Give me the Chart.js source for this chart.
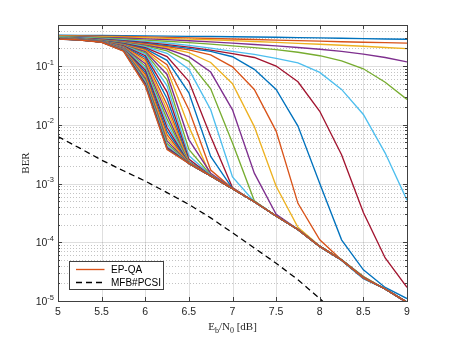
<!DOCTYPE html>
<html>
<head>
<meta charset="utf-8">
<script src="https://cdn.jsdelivr.net/npm/chart.js@4.4.1/dist/chart.umd.min.js"></script>
<style>
  html, body { margin: 0; padding: 0; background: #fff; }
  canvas { display: block; }
</style>
</head>
<body>
<canvas id="ber" width="450" height="338"></canvas>
<script>
// Eb/N0 grid (dB)
const ebN0 = [5, 5.25, 5.5, 5.75, 6, 6.25, 6.5, 6.75, 7, 7.25, 7.5, 7.75, 8, 8.25, 8.5, 8.75, 9];

// EP-QA curves (slowest first)
const ep01 = [0.335, 0.333, 0.331, 0.329, 0.327, 0.324, 0.321, 0.318, 0.315, 0.312, 0.309, 0.305, 0.301, 0.297, 0.293, 0.289, 0.286];
const ep02 = [0.33, 0.327, 0.323, 0.318, 0.313, 0.307, 0.301, 0.295, 0.289, 0.283, 0.277, 0.271, 0.265, 0.259, 0.254, 0.25, 0.246];
const ep03 = [0.325, 0.321, 0.316, 0.31, 0.303, 0.296, 0.288, 0.28, 0.271, 0.262, 0.253, 0.244, 0.235, 0.226, 0.217, 0.207, 0.198];
const ep04 = [0.32, 0.315, 0.308, 0.3, 0.291, 0.281, 0.27, 0.258, 0.246, 0.233, 0.22, 0.207, 0.193, 0.178, 0.16, 0.14, 0.118];
const ep05 = [0.315, 0.309, 0.3, 0.289, 0.277, 0.264, 0.25, 0.236, 0.221, 0.206, 0.19, 0.172, 0.15, 0.123, 0.09, 0.053, 0.027];
const ep06 = [0.31, 0.303, 0.292, 0.278, 0.263, 0.247, 0.225, 0.202, 0.178, 0.158, 0.135, 0.113, 0.078, 0.04, 0.015, 0.0033, 0.00052];
const ep07 = [0.305, 0.298, 0.286, 0.27, 0.252, 0.232, 0.21, 0.187, 0.163, 0.14, 0.1, 0.054, 0.017, 0.0031, 0.00032, 0.000054, 0.000017];
const ep08 = [0.303, 0.295, 0.282, 0.264, 0.244, 0.222, 0.2, 0.178, 0.144, 0.088, 0.04, 0.0095, 0.001, 0.00011, 0.000034, 0.000017, 0.000011];
const ep09 = [0.302, 0.293, 0.279, 0.26, 0.238, 0.213, 0.188, 0.155, 0.097, 0.04, 0.0078, 0.00046, 0.00011, 0.00005, 0.000026, 0.000016, 0.0000096];
const ep10 = [0.301, 0.292, 0.277, 0.256, 0.232, 0.205, 0.17, 0.115, 0.05, 0.0093, 0.0009, 0.00018, 0.000086, 0.000051, 0.000025, 0.000016, 0.0000095];
const ep11 = [0.3, 0.291, 0.275, 0.253, 0.226, 0.195, 0.145, 0.079, 0.018, 0.0015, 0.0003, 0.000166, 0.000085, 0.00005, 0.000025, 0.000016, 0.0000094];
const ep12 = [0.3, 0.29, 0.273, 0.25, 0.22, 0.182, 0.12, 0.041, 0.0049, 0.00051, 0.00028, 0.000165, 0.000085, 0.000051, 0.000026, 0.000016, 0.0000095];
const ep13 = [0.3, 0.289, 0.271, 0.246, 0.213, 0.165, 0.088, 0.018, 0.0013, 0.00049, 0.00028, 0.000165, 0.000084, 0.00005, 0.000025, 0.000016, 0.0000095];
const ep14 = [0.299, 0.288, 0.269, 0.242, 0.205, 0.145, 0.055, 0.0063, 0.00085, 0.00049, 0.00028, 0.000165, 0.000085, 0.00005, 0.000025, 0.000016, 0.0000093];
const ep15 = [0.299, 0.287, 0.267, 0.238, 0.197, 0.125, 0.035, 0.0029, 0.00082, 0.00049, 0.00028, 0.000164, 0.000085, 0.000049, 0.000024, 0.000016, 0.0000094];
const ep16 = [0.299, 0.286, 0.265, 0.234, 0.19, 0.105, 0.018, 0.0017, 0.00082, 0.00049, 0.00028, 0.000165, 0.000085, 0.00005, 0.000025, 0.000016, 0.0000095];
const ep17 = [0.298, 0.285, 0.263, 0.23, 0.183, 0.088, 0.0093, 0.00135, 0.00082, 0.00049, 0.00028, 0.000165, 0.000085, 0.00005, 0.000025, 0.000016, 0.0000095];
const ep18 = [0.298, 0.284, 0.262, 0.226, 0.176, 0.072, 0.0056, 0.0015, 0.00082, 0.00049, 0.00028, 0.000165, 0.000085, 0.00005, 0.000025, 0.000016, 0.0000095];
const ep19 = [0.297, 0.284, 0.262, 0.224, 0.168, 0.058, 0.0038, 0.0014, 0.00082, 0.00049, 0.00028, 0.000165, 0.000085, 0.00005, 0.000025, 0.000016, 0.0000095];
const ep20 = [0.297, 0.283, 0.261, 0.222, 0.16, 0.046, 0.003, 0.00138, 0.00082, 0.00049, 0.00028, 0.000165, 0.000085, 0.00005, 0.000025, 0.000016, 0.0000095];
const ep21 = [0.296, 0.283, 0.261, 0.22, 0.15, 0.036, 0.0026, 0.00136, 0.00082, 0.00049, 0.00028, 0.000165, 0.000085, 0.00005, 0.000025, 0.000016, 0.0000095];
const ep22 = [0.296, 0.283, 0.26, 0.217, 0.14, 0.028, 0.0024, 0.00135, 0.00082, 0.00049, 0.00028, 0.000165, 0.000085, 0.00005, 0.000025, 0.000016, 0.0000095];
const ep23 = [0.295, 0.282, 0.26, 0.214, 0.13, 0.022, 0.0023, 0.00135, 0.00082, 0.00049, 0.00028, 0.000165, 0.000085, 0.00005, 0.000025, 0.000016, 0.0000095];
const ep24 = [0.295, 0.282, 0.259, 0.211, 0.12, 0.018, 0.0023, 0.00135, 0.00082, 0.00049, 0.00028, 0.000165, 0.000085, 0.00005, 0.000025, 0.000016, 0.0000095];
const ep25 = [0.294, 0.282, 0.259, 0.208, 0.11, 0.015, 0.0022, 0.00135, 0.00082, 0.00049, 0.00028, 0.000165, 0.000085, 0.00005, 0.000025, 0.000016, 0.0000095];
const ep26 = [0.294, 0.281, 0.258, 0.205, 0.1, 0.0125, 0.0022, 0.00135, 0.00082, 0.00049, 0.00028, 0.000165, 0.000085, 0.00005, 0.000025, 0.000016, 0.0000095];
const ep27 = [0.293, 0.281, 0.258, 0.202, 0.092, 0.0105, 0.0022, 0.00135, 0.00082, 0.00049, 0.00028, 0.000165, 0.000085, 0.00005, 0.000025, 0.000016, 0.0000095];
const ep28 = [0.293, 0.281, 0.257, 0.199, 0.085, 0.009, 0.0022, 0.00135, 0.00082, 0.00049, 0.00028, 0.000165, 0.000085, 0.00005, 0.000025, 0.000016, 0.0000095];
const ep29 = [0.292, 0.28, 0.257, 0.196, 0.078, 0.0078, 0.0022, 0.00135, 0.00082, 0.00049, 0.00028, 0.000165, 0.000085, 0.00005, 0.000025, 0.000016, 0.0000095];
const ep30 = [0.292, 0.28, 0.256, 0.194, 0.072, 0.0068, 0.0022, 0.00135, 0.00082, 0.00049, 0.00028, 0.000165, 0.000085, 0.00005, 0.000025, 0.000016, 0.0000095];
const ep31 = [0.291, 0.28, 0.256, 0.192, 0.067, 0.006, 0.0022, 0.00135, 0.00082, 0.00049, 0.00028, 0.000165, 0.000085, 0.00005, 0.000025, 0.000016, 0.0000095];
const ep32 = [0.291, 0.279, 0.256, 0.19, 0.062, 0.0053, 0.0022, 0.00135, 0.00082, 0.00049, 0.00028, 0.000165, 0.000085, 0.00005, 0.000025, 0.000016, 0.0000095];
const ep33 = [0.29, 0.279, 0.255, 0.188, 0.058, 0.0048, 0.0022, 0.00135, 0.00082, 0.00049, 0.00028, 0.000165, 0.000085, 0.00005, 0.000025, 0.000016, 0.0000095];
const ep34 = [0.29, 0.279, 0.255, 0.186, 0.054, 0.0044, 0.0022, 0.00135, 0.00082, 0.00049, 0.00028, 0.000165, 0.000085, 0.00005, 0.000025, 0.000016, 0.0000095];
const ep35 = [0.29, 0.278, 0.255, 0.184, 0.051, 0.0041, 0.0022, 0.00135, 0.00082, 0.00049, 0.00028, 0.000165, 0.000085, 0.00005, 0.000025, 0.000016, 0.0000095];
const ep36 = [0.289, 0.278, 0.255, 0.182, 0.048, 0.0039, 0.0022, 0.00135, 0.00082, 0.00049, 0.00028, 0.000165, 0.000085, 0.00005, 0.000025, 0.000016, 0.0000095];
const ep37 = [0.289, 0.278, 0.254, 0.18, 0.046, 0.0038, 0.0022, 0.00135, 0.00082, 0.00049, 0.00028, 0.000165, 0.000085, 0.00005, 0.000025, 0.000016, 0.0000095];

const epCurves = [ep01, ep02, ep03, ep04, ep05, ep06, ep07, ep08, ep09, ep10,
                  ep11, ep12, ep13, ep14, ep15, ep16, ep17, ep18, ep19, ep20,
                  ep21, ep22, ep23, ep24, ep25, ep26, ep27, ep28, ep29, ep30,
                  ep31, ep32, ep33, ep34, ep35, ep36, ep37];

// matched filter bound, perfect CSI
const mfbPcsi = [0.0063, 0.004, 0.0025, 0.00165, 0.0011, 0.0007, 0.00044, 0.00026, 0.000145, 0.00008, 0.000044, 0.000023, 0.000011, 0.000005, 0.0000022, 0.0000009, 0.00000035];

const xTicks = [5, 5.5, 6, 6.5, 7, 7.5, 8, 8.5, 9];
const xTickLabels = ['5', '5.5', '6', '6.5', '7', '7.5', '8', '8.5', '9'];
const yDecades = [1e-5, 1e-4, 1e-3, 1e-2, 1e-1];
const yExponents = ['-5', '-4', '-3', '-2', '-1'];
const legendLabels = ['EP-QA', 'MFB#PCSI'];

const matlabColors = ['#0072BD', '#D95319', '#EDB120', '#7E2F8E', '#77AC30', '#4DBEEE', '#A2142F'];
const axisColor = '#404040';
const sans = '"Liberation Sans", Arial, sans-serif';
const serif = '"Liberation Serif", "Times New Roman", serif';

const datasets = epCurves.map((curve, i) => ({
  label: legendLabels[0],
  data: ebN0.map((x, j) => ({ x: x, y: curve[j] })),
  borderColor: matlabColors[i % matlabColors.length],
  borderWidth: 1.35,
  pointRadius: 0,
  tension: 0,
  fill: false,
  order: -i
}));
datasets.push({
  label: legendLabels[1],
  data: ebN0.map((x, j) => ({ x: x, y: mfbPcsi[j] })),
  borderColor: '#000000',
  borderDash: [6, 4],
  borderWidth: 1.3,
  pointRadius: 0,
  tension: 0,
  fill: false,
  order: -100
});

// grid, frame and tick marks in MATLAB style
const gridPlugin = {
  id: 'matlabGrid',
  beforeDatasetsDraw(chart) {
    const { ctx, chartArea: a, scales: { x, y } } = chart;
    ctx.save();
    ctx.lineWidth = 1;
    // minor y grid, dotted
    ctx.strokeStyle = 'rgba(38,38,38,0.28)';
    ctx.setLineDash([1, 2]);
    yDecades.forEach(d => {
      for (let m = 2; m <= 9; m++) {
        const v = m * d;
        if (v >= y.max) continue;
        const py = Math.round(y.getPixelForValue(v)) + 0.5;
        ctx.beginPath();
        ctx.moveTo(a.left, py);
        ctx.lineTo(a.right, py);
        ctx.stroke();
      }
    });
    // major grid
    ctx.setLineDash([]);
    ctx.strokeStyle = 'rgba(38,38,38,0.15)';
    yDecades.forEach(d => {
      const py = Math.round(y.getPixelForValue(d)) + 0.5;
      ctx.beginPath();
      ctx.moveTo(a.left, py);
      ctx.lineTo(a.right, py);
      ctx.stroke();
    });
    xTicks.forEach(t => {
      const px = Math.round(x.getPixelForValue(t)) + 0.5;
      ctx.beginPath();
      ctx.moveTo(px, a.top);
      ctx.lineTo(px, a.bottom);
      ctx.stroke();
    });
    ctx.restore();
  },
  afterDatasetsDraw(chart) {
    const { ctx, chartArea: a, scales: { x, y } } = chart;
    ctx.save();
    ctx.strokeStyle = axisColor;
    ctx.lineWidth = 1;
    ctx.strokeRect(Math.round(a.left) + 0.5, Math.round(a.top) + 0.5,
      Math.round(a.right - a.left), Math.round(a.bottom - a.top));
    ctx.beginPath();
    xTicks.forEach(t => {
      const px = Math.round(x.getPixelForValue(t)) + 0.5;
      ctx.moveTo(px, a.bottom); ctx.lineTo(px, a.bottom - 4);
      ctx.moveTo(px, a.top); ctx.lineTo(px, a.top + 4);
    });
    yDecades.forEach(d => {
      const py = Math.round(y.getPixelForValue(d)) + 0.5;
      ctx.moveTo(a.left, py); ctx.lineTo(a.left + 4, py);
      ctx.moveTo(a.right, py); ctx.lineTo(a.right - 4, py);
      for (let m = 2; m <= 9; m++) {
        const v = m * d;
        if (v >= y.max) continue;
        const pm = Math.round(y.getPixelForValue(v)) + 0.5;
        ctx.moveTo(a.left, pm); ctx.lineTo(a.left + 2, pm);
        ctx.moveTo(a.right, pm); ctx.lineTo(a.right - 2, pm);
      }
    });
    ctx.stroke();
    ctx.restore();
  },
  afterDraw(chart) {
    const { ctx, chartArea: a, scales: { x, y } } = chart;
    ctx.save();
    ctx.fillStyle = '#262626';
    // x tick labels
    ctx.font = '10.5px ' + sans;
    ctx.textAlign = 'center';
    ctx.textBaseline = 'top';
    xTicks.forEach((t, i) => {
      ctx.fillText(xTickLabels[i], x.getPixelForValue(t), a.bottom + 6);
    });
    // y tick labels: 10^k
    ctx.textBaseline = 'alphabetic';
    ctx.textAlign = 'left';
    yDecades.forEach((d, i) => {
      const py = y.getPixelForValue(d);
      ctx.font = '7.5px ' + sans;
      const supW = ctx.measureText(yExponents[i]).width;
      ctx.font = '10.5px ' + sans;
      const baseW = ctx.measureText('10').width;
      const right = a.left - 4;
      ctx.fillText('10', right - supW - baseW, py + 4);
      ctx.font = '7.5px ' + sans;
      ctx.fillText(yExponents[i], right - supW, py - 1.5);
    });
    // x title: Eb/N0 [dB]
    const parts = [['E', 0], ['b', 1], ['/N', 0], ['0', 1], [' [dB]', 0]];
    let total = 0;
    parts.forEach(p => {
      ctx.font = (p[1] ? '8px ' : '11px ') + serif;
      total += ctx.measureText(p[0]).width;
    });
    let cx = (a.left + a.right) / 2 - total / 2;
    parts.forEach(p => {
      ctx.font = (p[1] ? '8px ' : '11px ') + serif;
      ctx.fillText(p[0], cx, p[1] ? 332.5 : 329.5);
      cx += ctx.measureText(p[0]).width;
    });
    // y title
    ctx.save();
    ctx.translate(28.5, (a.top + a.bottom) / 2);
    ctx.rotate(-Math.PI / 2);
    ctx.textAlign = 'center';
    ctx.font = '11px ' + serif;
    ctx.fillText('BER', 0, 0);
    ctx.restore();
    // legend box
    const bx = 69.5, by = 261.5, bw = 94, bh = 28;
    ctx.fillStyle = '#ffffff';
    ctx.fillRect(bx, by, bw, bh);
    ctx.strokeStyle = axisColor;
    ctx.lineWidth = 1;
    ctx.strokeRect(bx, by, bw, bh);
    const rows = [datasets[datasets.length - 2], datasets[datasets.length - 1]];
    rows.forEach((ds, i) => {
      const ly = by + 8 + i * 13;
      ctx.beginPath();
      ctx.strokeStyle = ds.borderColor;
      ctx.lineWidth = ds.borderWidth;
      ctx.setLineDash(ds.borderDash || []);
      ctx.moveTo(bx + 6.5, ly);
      ctx.lineTo(bx + 35, ly);
      ctx.stroke();
      ctx.setLineDash([]);
      ctx.fillStyle = '#000000';
      ctx.font = '10px ' + sans;
      ctx.textAlign = 'left';
      ctx.textBaseline = 'middle';
      ctx.fillText(legendLabels[i], bx + 41.5, ly + 0.5);
    });
    ctx.restore();
  }
};

new Chart(document.getElementById('ber').getContext('2d'), {
  type: 'line',
  data: { datasets: datasets },
  options: {
    responsive: false,
    animation: false,
    devicePixelRatio: 1,
    layout: { padding: { left: 58, right: 43, top: 25, bottom: 37 } },
    plugins: { legend: { display: false }, tooltip: { enabled: false } },
    scales: {
      x: { type: 'linear', min: 5, max: 9, display: false },
      y: { type: 'logarithmic', min: 1e-5, max: 0.5, display: false }
    }
  },
  plugins: [gridPlugin]
});
</script>
</body>
</html>
